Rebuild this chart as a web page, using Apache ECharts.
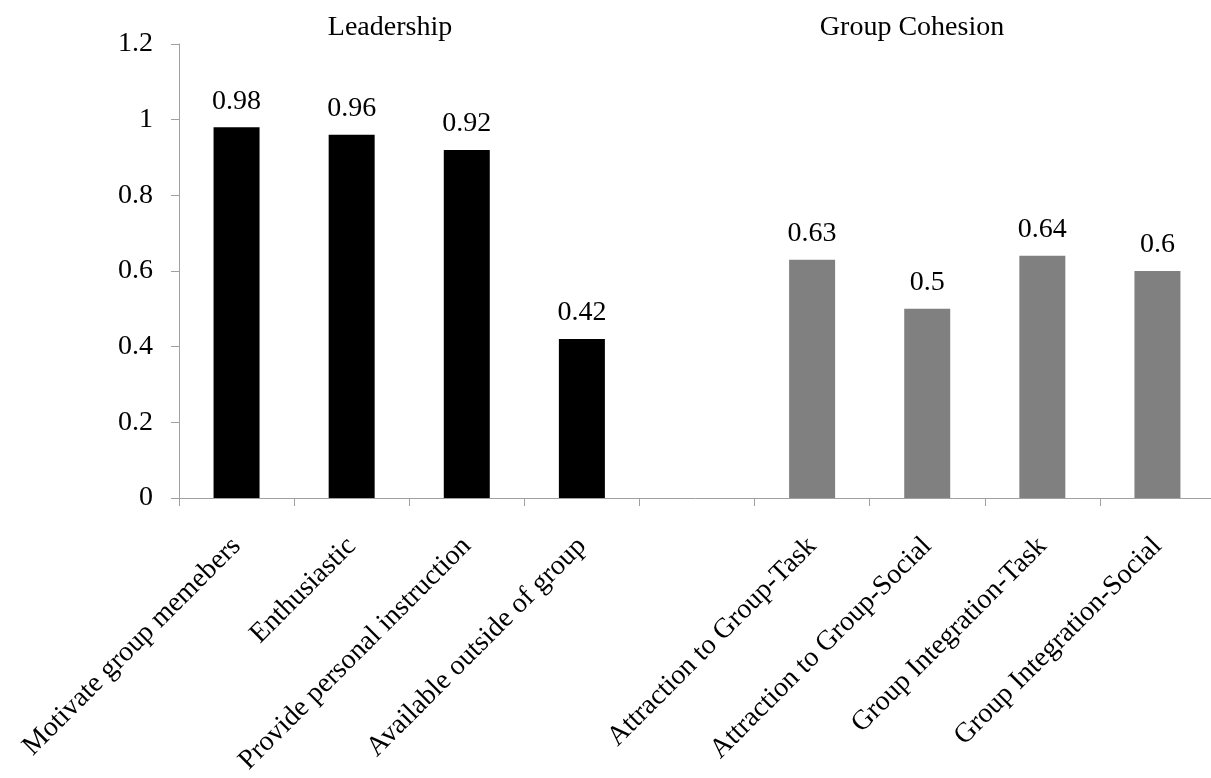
<!DOCTYPE html>
<html>
<head>
<meta charset="utf-8">
<script src="https://cdn.jsdelivr.net/npm/echarts@6/dist/echarts.min.js"></script>
<style>html,body{margin:0;padding:0;background:#fff}#c{width:1211px;height:778px}</style>
</head>
<body>
<div id="c"></div>
<script>
var categories = ['Motivate group memebers','Enthusiastic','Provide personal instruction','Available outside of group','','Attraction to Group-Task','Attraction to Group-Social','Group Integration-Task','Group Integration-Social'];
var leadershipValues = [0.98, 0.96, 0.92, 0.42, '-', '-', '-', '-', '-'];
var cohesionValues = ['-', '-', '-', '-', '-', 0.63, 0.5, 0.64, 0.6];
var groupTitles = ['Leadership', 'Group Cohesion'];
var font = '"Liberation Serif", "Times New Roman", serif';

var chart = echarts.init(document.getElementById('c'));
var labelCfg = {show: true, position: 'top', distance: 12, color: '#000', fontFamily: font, fontSize: 28};
chart.setOption({
  animation: false,
  backgroundColor: '#fff',
  grid: {left: 179, right: -4, top: 44, bottom: 280, containLabel: false, outerBoundsMode: 'none'},
  graphic: [
    {type: 'text', x: 390, y: 28, style: {text: groupTitles[0], font: '28px ' + font, fill: '#000', align: 'center', verticalAlign: 'middle'}},
    {type: 'text', x: 912, y: 28, style: {text: groupTitles[1], font: '28px ' + font, fill: '#000', align: 'center', verticalAlign: 'middle'}}
  ],
  xAxis: {
    type: 'category', data: categories,
    axisLine: {lineStyle: {color: '#a0a0a0', width: 1}},
    axisTick: {show: true, length: 8, lineStyle: {color: '#a0a0a0'}},
    axisLabel: {interval: 0, rotate: 45, margin: 44, color: '#000', fontFamily: font, fontSize: 28}
  },
  yAxis: {
    type: 'value', min: 0, max: 1.2, interval: 0.2,
    axisLine: {show: true, lineStyle: {color: '#a0a0a0', width: 1}},
    axisTick: {show: true, length: 8, lineStyle: {color: '#a0a0a0'}},
    splitLine: {show: false},
    axisLabel: {margin: 26, color: '#000', fontFamily: font, fontSize: 28,
      formatter: function (v) { return String(Math.round(v * 10) / 10); }}
  },
  series: [
    {type: 'bar', data: leadershipValues, barWidth: 46, barGap: '-100%', itemStyle: {color: '#000'}, label: labelCfg},
    {type: 'bar', data: cohesionValues, barWidth: 46, itemStyle: {color: '#808080'}, label: labelCfg}
  ]
});
</script>
</body>
</html>
